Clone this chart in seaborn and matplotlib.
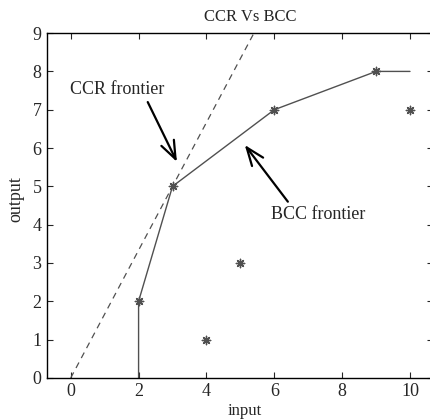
import matplotlib
matplotlib.use("Agg")
import matplotlib.pyplot as plt
import seaborn as sns

# BCC frontier (piecewise, starts at the input axis)
bcc_x = [2, 2, 3, 6, 9, 10]
bcc_y = [0, 2, 5, 7, 8, 8]

# CCR frontier: ray from origin through DMU (3, 5)
ccr_x = [0, 5.4]
ccr_y = [0, 9]

# DMUs
dmu_input = [2, 3, 6, 9, 4, 5, 10]
dmu_output = [2, 5, 7, 8, 1, 3, 7]

x_ticks = [0, 2, 4, 6, 8, 10]
y_ticks = [0, 1, 2, 3, 4, 5, 6, 7, 8, 9]

sns.set_style("ticks")
plt.rcParams["font.family"] = ["Liberation Serif", "DejaVu Serif"]
plt.rcParams["xtick.direction"] = "in"
plt.rcParams["ytick.direction"] = "in"

fig = plt.figure(figsize=(4.31, 4.19), dpi=100)
ax = fig.add_axes([0.109, 0.098, 0.895, 0.823])

grey = "#505050"
sns.lineplot(x=bcc_x, y=bcc_y, ax=ax, color=grey, linewidth=1.0,
             sort=False, estimator=None)
sns.lineplot(x=ccr_x, y=ccr_y, ax=ax, color=grey, linewidth=0.9,
             linestyle=(0, (5, 4)), sort=False, estimator=None)
sns.scatterplot(x=dmu_input, y=dmu_output, ax=ax, marker=(8, 2, 0),
                s=36, color=grey, edgecolor=grey, linewidth=1.0, zorder=3)

arrow = dict(arrowstyle="->,head_length=1.3,head_width=0.5",
             color="black", lw=1.6, shrinkA=0, shrinkB=0)
ax.annotate("", xy=(3.13, 5.64), xytext=(2.27, 7.2), arrowprops=arrow)
ax.text(1.36, 7.52, "CCR frontier", fontsize=13, ha="center", va="center")

ax.annotate("", xy=(5.13, 6.08), xytext=(6.4, 4.6), arrowprops=arrow)
ax.text(7.29, 4.26, "BCC frontier", fontsize=13, ha="center", va="center")

ax.set_xlim(-0.7, 10.67)
ax.set_ylim(0, 9)
ax.set_xticks(x_ticks)
ax.set_yticks(y_ticks)
ax.tick_params(axis="both", labelsize=13, length=4, width=0.8,
               top=True, right=True, pad=4)
for sp in ax.spines.values():
    sp.set_linewidth(1.0)
    sp.set_color("black")

ax.set_title("CCR Vs BCC", fontsize=12, pad=9, x=0.526)
ax.set_xlabel("input", fontsize=12)
ax.xaxis.set_label_coords(0.513, -0.072)
ax.set_ylabel("output", fontsize=13)
ax.yaxis.set_label_coords(-0.058, 0.519)

fig.savefig("out.png", dpi=100)
